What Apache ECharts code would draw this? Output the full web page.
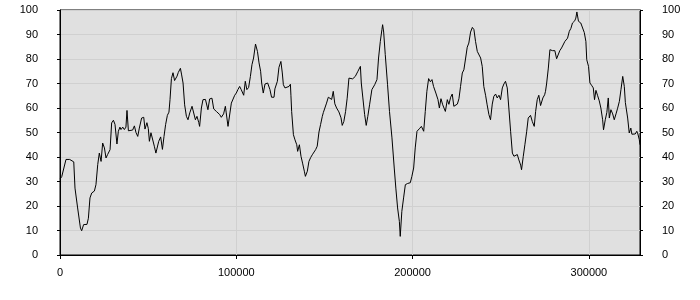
<!DOCTYPE html>
<html>
<head>
<meta charset="utf-8">
<script src="https://cdn.jsdelivr.net/npm/echarts@6/dist/echarts.min.js"></script>
<style>html,body{margin:0;padding:0;background:#fff;}#c{width:700px;height:300px;}</style>
</head>
<body>
<div id="c"></div>
<script>
// x positions in thousands
const xThousands = [
0,1,3.4,5.5,6.6,7.8,8.5,10,11.6,12.3,13.4,15.3,16.1,17,18,19.5,20.4,21.4,22.3,23.3,24.2,25.2,26.1,27,28.4,29.3,30.3,31.2,32.3,33.1,34,34.6,35.6,36.5,37.4,38,38.8,39.9,41.2,42.2,43.1,44.1,45,46.3,47.5,48.2,49.3,50.1,50.7,51.6,52.6,53.5,54.4,55.4,
56,57.1,58.1,59,59.9,60.9,61.8,62.4,63.2,64.1,65,66.4,67.1,68.3,69,69.8,70.7,71.7,72.6,73.6,74.9,75.7,76.8,77.7,78.7,79.2,80.2,81.1,82.5,83.4,83.9,84.9,86.2,87.2,88.7,89.6,90.6,91.5,92.8,93.8,94.3,95.3,96.2,97.2,98.3,99.1,100,100.9,101.9,102.8,104.2,105.1,106,107,108,108.9,
109.8,110.9,112,112.9,113.8,114.4,115.3,116.3,117.8,119.1,120,121.4,121.9,123.3,124.2,125.3,126.1,126.7,127.6,128.6,129.9,130.7,131,131.4,132.4,133.3,134.3,134.8,135.8,136.7,137.6,138.6,139.2,140.3,141.2,142.2,143.1,144,145,145.9,146.9,147.8,148.8,149.4,150.3,151.2,152.2,153.1,154.1,155,155.9,156.9,158.2,159.4,160.1,161,162,162.9,163.9,164.9,
166,167.5,169,170.4,170.9,171.8,172.8,173.7,174.6,175.6,176.9,178.5,179.8,180.7,181.7,182.6,183,183.6,184.5,185.8,186.9,188.3,189.6,190.5,191.5,192.5,193,193.9,194.9,195.9,197.2,198.7,199.6,200.6,201.5,202.5,203.8,205,206.3,207.2,208.1,209.1,210.1,211,211.9,213.2,214.4,215.2,216.1,217.1,218.6,
219.7,220.6,221.6,222.5,223.4,224.4,225.4,226.3,227.2,228.2,229.1,230.1,231,231.9,232.9,233.9,234.8,235.7,236.7,237.6,238.6,239.5,240.4,241.4,242.3,243.3,244.2,245.2,246.1,247.1,248,249,249.9,250.9,251.8,252.7,253.7,254.6,255.6,256.6,257.5,258.4,259.4,260.3,261.3,261.8,262.8,263.7,264.7,265.6,266.9,267.9,269,269.8,270.7,271.6,272.6,273.9,
274.9,275.4,276,277,277.9,279.4,280.7,281.7,282.6,283.5,284.5,285.5,286.4,287.9,288.9,289.8,290.7,292,292.6,293.2,294.1,295.4,296.4,297.4,298.3,298.8,299.8,300.6,301.5,302.5,303.2,304,304.9,305.9,306.8,307.8,308.3,309.3,310.2,311,311.6,312.5,313.5,314.4,315.4,316.3,317.3,318.2,319.2,320.1,320.7,322,322.9,323.8,324.4,325.4,326.3,327.2,327.8,328.6,329
];
const yValues = [
31,32,39,39,39,38,27.3,19.2,11,9.9,12.4,12.5,15,23.3,25.3,26.1,28.7,36.9,41.6,38.2,45.7,43.7,39.6,41,43,53.9,55,53.3,45.3,50.5,52.2,51.2,52.2,51.2,52.2,59,50.7,50.5,51,52.7,50,48.4,51.8,55.9,56.2,51.4,54,51.6,46.4,49.9,50.3,44.4,41.6,42.3,
46.4,48.2,43.1,48.4,53.2,57,58.3,63.4,72,74.4,71.2,73,74.5,76.2,73.5,70.2,61.3,56.6,55.2,58,60.7,60,55.2,56.6,54.1,52.5,60,63.4,63.5,63.7,59.3,63.7,64,59.6,58.6,58,57.3,56.2,57.6,60.7,58,52.5,53,62,62.4,65.2,66.1,67.5,68.8,67.5,65.2,70.9,67.5,68.4,72.9,77.7,
80.4,86.1,83.1,78.4,75,70.2,66.1,69.8,70.2,67.5,64.4,64.4,67.8,70.9,76.6,79,74.3,69.5,68.2,67.5,68.8,69.7,65,58.6,49.1,47,45,42.3,45,40.3,37.5,34.2,32.1,34.2,38.2,39.8,40.9,40.3,43,44.4,50.2,53.2,56.6,58.2,57.8,62,64.4,65.2,63.5,66.8,61.7,60,58.4,56,52.9,54.5,58.6,64,72.2,71.6,
71.9,72.9,75,77,70.2,64.1,57.3,52.9,56.6,61.3,67.5,69.5,71.6,80.4,87.2,92,94,91,81.8,69.5,58.6,47.8,35.5,27.3,19.2,13.7,7.6,17.8,23.3,28.7,29.2,29.5,32.1,35.5,43.7,50.5,51.5,52.5,50.5,58.6,66.8,72,70.7,71.6,68.8,66.1,63.4,60,63.8,61.3,58.6,
63.4,61.5,64.4,65.7,60.7,60,61.6,63.8,68.8,74.3,75.6,80.4,84.8,86.5,91,92.9,92,87.2,83.1,82.4,80.4,77,68.8,65.2,61.3,57.3,55.2,61.6,64.8,65.7,64.1,65.2,63.4,68.2,69.8,70.9,68.2,60,50.5,41.6,40.3,39.8,41,38.8,36.7,34.8,40.3,45,50.3,55.9,57,54.5,52.5,58.6,63.4,65.2,61,64.1,
65.4,66.8,69.8,76.3,83.8,83.4,83.4,80.1,80.1,83.4,84.5,84.2,87.2,88.5,91.3,92.5,94.7,95.6,96.7,99.2,95.4,94.7,94.2,90.8,87.2,79.7,77,70.2,69.3,68.2,63.4,67.2,65.2,62.9,60,55.2,51.1,55.2,58.2,64.1,55.9,59.3,57.6,55.2,57.6,59.9,62.7,67.5,72.9,68.8,62.2,55.9,49.8,51.8,49.3,49.6,49.4,50.5,49.4,47.1,45
];
const xTicks = [0, 100000, 200000, 300000];
const yMin = 0, yMax = 100, yStep = 10;
const xMax = 329000;

const seriesData = xThousands.map((v, i) => [v * 1000, yValues[i]]);
const font = {fontFamily: 'Liberation Sans', fontSize: 11, color: '#000'};

const chart = echarts.init(document.getElementById('c'), null, {renderer: 'canvas'});
chart.setOption({
  animation: false,
  backgroundColor: '#fff',
  grid: {left: 60, right: 60, top: 10, bottom: 45, show: true, backgroundColor: '#e0e0e0', borderColor: '#000', borderWidth: 1},
  xAxis: {
    type: 'value', min: 0, max: xMax, interval: 100000,
    axisLine: {show: true, onZero: false, lineStyle: {color: '#000'}},
    axisTick: {show: true, length: 4, lineStyle: {color: '#000'}, customValues: xTicks},
    axisLabel: Object.assign({margin: 12, customValues: xTicks, showMaxLabel: true,
      formatter: v => (v % 100000 === 0 ? String(v) : '')}, font),
    splitLine: {show: true, lineStyle: {color: '#d0d0d0', width: 1}}
  },
  yAxis: [
    {type: 'value', min: yMin, max: yMax, interval: yStep, position: 'left',
     axisLine: {show: true, lineStyle: {color: '#000'}},
     axisTick: {show: true, length: 3, lineStyle: {color: '#000'}},
     axisLabel: Object.assign({margin: 22}, font),
     splitLine: {show: true, lineStyle: {color: '#d0d0d0', width: 1}}},
    {type: 'value', min: yMin, max: yMax, interval: yStep, position: 'right',
     axisLine: {show: true, lineStyle: {color: '#000'}},
     axisTick: {show: true, length: 3, lineStyle: {color: '#000'}},
     axisLabel: Object.assign({margin: 22, align: 'left'}, font),
     splitLine: {show: false}}
  ],
  series: [{
    type: 'line', data: seriesData, showSymbol: false, symbol: 'none',
    lineStyle: {color: '#000', width: 1}, silent: true
  }]
});
</script>
</body>
</html>
